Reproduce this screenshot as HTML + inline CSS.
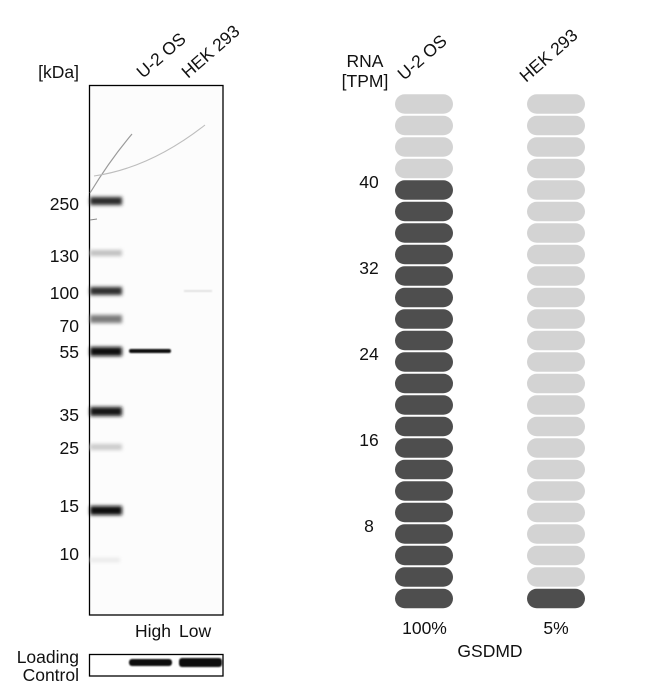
<!DOCTYPE html>
<html><head><meta charset="utf-8"><style>
html,body{margin:0;padding:0;background:#fff;}
svg{display:block;}
text{font-family:"Liberation Sans",Arial,sans-serif;fill:#111;}
</style></head><body>
<svg width="650" height="681" viewBox="0 0 650 681" xmlns="http://www.w3.org/2000/svg">
<defs>
<filter id="b2" x="-20%" y="-200%" width="140%" height="500%"><feGaussianBlur stdDeviation="1.9"/></filter>
<filter id="b1" x="-20%" y="-200%" width="140%" height="500%"><feGaussianBlur stdDeviation="0.8"/></filter>
</defs>
<rect width="650" height="681" fill="#fff"/>

<!-- Western blot labels -->
<text x="79" y="78" font-size="17.5" text-anchor="end">[kDa]</text>
<text x="143" y="79" font-size="17.5" transform="rotate(-41 143 79)">U-2 OS</text>
<text x="188" y="79" font-size="17.5" transform="rotate(-41 188 79)">HEK 293</text>

<!-- blot box -->
<rect x="89.5" y="85.5" width="133.5" height="529.5" fill="#fcfcfc" stroke="#000" stroke-width="1.3"/>
<!-- scratches -->
<path d="M90,193 Q110,160 132,134" stroke="#9a9a9a" stroke-width="1.2" fill="none"/>
<path d="M94,176 Q150,168 205,125" stroke="#bdbdbd" stroke-width="1.1" fill="none"/>
<path d="M90,220 L97,219" stroke="#888" stroke-width="1" fill="none"/>

<!-- ladder bands -->
<g filter="url(#b2)">
<rect x="90" y="197" width="32" height="8" fill="#2a2a2a"/>
<rect x="90" y="250" width="32" height="6" fill="#c0c0c0"/>
<rect x="90" y="287" width="32" height="8" fill="#2e2e2e"/>
<rect x="90" y="315" width="32" height="8" fill="#7a7a7a"/>
<rect x="90" y="347" width="32" height="9" fill="#111"/>
<rect x="90" y="407" width="32" height="9" fill="#181818"/>
<rect x="90" y="444" width="32" height="6" fill="#cacaca"/>
<rect x="90" y="506" width="32" height="9" fill="#0a0a0a"/>
<rect x="90" y="558" width="30" height="4" fill="#e8e8e8"/>
</g>
<!-- sample band -->
<g filter="url(#b1)">
<rect x="129" y="349" width="42" height="4" rx="2" fill="#111"/>
<rect x="184" y="290" width="28" height="2" fill="#e2e2e2"/>
</g>

<!-- ladder labels -->
<g font-size="17.5" text-anchor="end">
<text x="79" y="210">250</text>
<text x="79" y="262">130</text>
<text x="79" y="299">100</text>
<text x="79" y="332">70</text>
<text x="79" y="358">55</text>
<text x="79" y="421">35</text>
<text x="79" y="454">25</text>
<text x="79" y="512">15</text>
<text x="79" y="560">10</text>
</g>

<text x="135" y="637" font-size="17.5">High</text>
<text x="179" y="637" font-size="17.5">Low</text>

<!-- loading control -->
<text x="79" y="663" font-size="17.5" text-anchor="end">Loading</text>
<text x="79" y="681" font-size="17.5" text-anchor="end">Control</text>
<rect x="89.5" y="654.5" width="133.5" height="21.5" fill="#fff" stroke="#000" stroke-width="1.3"/>
<g filter="url(#b1)">
<rect x="129" y="659" width="43" height="7" rx="3" fill="#111"/>
<rect x="179" y="658" width="43" height="9" rx="3" fill="#0d0d0d"/>
</g>

<!-- RNA -->
<text x="365" y="67" font-size="17.5" text-anchor="middle">RNA</text>
<text x="365" y="87" font-size="17.5" text-anchor="middle">[TPM]</text>
<text x="404" y="81" font-size="17.5" transform="rotate(-41 404 81)">U-2 OS</text>
<text x="526" y="83" font-size="17.5" transform="rotate(-41 526 83)">HEK 293</text>

<g font-size="17.5" text-anchor="middle">
<text x="369" y="188">40</text>
<text x="369" y="274">32</text>
<text x="369" y="360">24</text>
<text x="369" y="446">16</text>
<text x="369" y="532">8</text>
</g>

<g>
<rect x="395" y="94.3" width="58" height="19.5" rx="9.75" fill="#d3d3d3"/>
<rect x="395" y="115.8" width="58" height="19.5" rx="9.75" fill="#d3d3d3"/>
<rect x="395" y="137.3" width="58" height="19.5" rx="9.75" fill="#d3d3d3"/>
<rect x="395" y="158.8" width="58" height="19.5" rx="9.75" fill="#d3d3d3"/>
<rect x="395" y="180.3" width="58" height="19.5" rx="9.75" fill="#4e4e4e"/>
<rect x="395" y="201.8" width="58" height="19.5" rx="9.75" fill="#4e4e4e"/>
<rect x="395" y="223.3" width="58" height="19.5" rx="9.75" fill="#4e4e4e"/>
<rect x="395" y="244.8" width="58" height="19.5" rx="9.75" fill="#4e4e4e"/>
<rect x="395" y="266.3" width="58" height="19.5" rx="9.75" fill="#4e4e4e"/>
<rect x="395" y="287.8" width="58" height="19.5" rx="9.75" fill="#4e4e4e"/>
<rect x="395" y="309.3" width="58" height="19.5" rx="9.75" fill="#4e4e4e"/>
<rect x="395" y="330.8" width="58" height="19.5" rx="9.75" fill="#4e4e4e"/>
<rect x="395" y="352.3" width="58" height="19.5" rx="9.75" fill="#4e4e4e"/>
<rect x="395" y="373.8" width="58" height="19.5" rx="9.75" fill="#4e4e4e"/>
<rect x="395" y="395.3" width="58" height="19.5" rx="9.75" fill="#4e4e4e"/>
<rect x="395" y="416.8" width="58" height="19.5" rx="9.75" fill="#4e4e4e"/>
<rect x="395" y="438.3" width="58" height="19.5" rx="9.75" fill="#4e4e4e"/>
<rect x="395" y="459.8" width="58" height="19.5" rx="9.75" fill="#4e4e4e"/>
<rect x="395" y="481.3" width="58" height="19.5" rx="9.75" fill="#4e4e4e"/>
<rect x="395" y="502.8" width="58" height="19.5" rx="9.75" fill="#4e4e4e"/>
<rect x="395" y="524.3" width="58" height="19.5" rx="9.75" fill="#4e4e4e"/>
<rect x="395" y="545.8" width="58" height="19.5" rx="9.75" fill="#4e4e4e"/>
<rect x="395" y="567.3" width="58" height="19.5" rx="9.75" fill="#4e4e4e"/>
<rect x="395" y="588.8" width="58" height="19.5" rx="9.75" fill="#4e4e4e"/>
</g>
<g fill="#d3d3d3">
<rect x="527" y="94.3" width="58" height="19.5" rx="9.75"/>
<rect x="527" y="115.8" width="58" height="19.5" rx="9.75"/>
<rect x="527" y="137.3" width="58" height="19.5" rx="9.75"/>
<rect x="527" y="158.8" width="58" height="19.5" rx="9.75"/>
<rect x="527" y="180.3" width="58" height="19.5" rx="9.75"/>
<rect x="527" y="201.8" width="58" height="19.5" rx="9.75"/>
<rect x="527" y="223.3" width="58" height="19.5" rx="9.75"/>
<rect x="527" y="244.8" width="58" height="19.5" rx="9.75"/>
<rect x="527" y="266.3" width="58" height="19.5" rx="9.75"/>
<rect x="527" y="287.8" width="58" height="19.5" rx="9.75"/>
<rect x="527" y="309.3" width="58" height="19.5" rx="9.75"/>
<rect x="527" y="330.8" width="58" height="19.5" rx="9.75"/>
<rect x="527" y="352.3" width="58" height="19.5" rx="9.75"/>
<rect x="527" y="373.8" width="58" height="19.5" rx="9.75"/>
<rect x="527" y="395.3" width="58" height="19.5" rx="9.75"/>
<rect x="527" y="416.8" width="58" height="19.5" rx="9.75"/>
<rect x="527" y="438.3" width="58" height="19.5" rx="9.75"/>
<rect x="527" y="459.8" width="58" height="19.5" rx="9.75"/>
<rect x="527" y="481.3" width="58" height="19.5" rx="9.75"/>
<rect x="527" y="502.8" width="58" height="19.5" rx="9.75"/>
<rect x="527" y="524.3" width="58" height="19.5" rx="9.75"/>
<rect x="527" y="545.8" width="58" height="19.5" rx="9.75"/>
<rect x="527" y="567.3" width="58" height="19.5" rx="9.75"/>
</g>
<rect x="527" y="588.8" width="58" height="19.5" rx="9.75" fill="#4e4e4e"/>

<text x="424.5" y="634" font-size="17.5" text-anchor="middle">100%</text>
<text x="556" y="634" font-size="17.5" text-anchor="middle">5%</text>
<text x="490" y="657" font-size="17.5" text-anchor="middle">GSDMD</text>
</svg>
</body></html>
